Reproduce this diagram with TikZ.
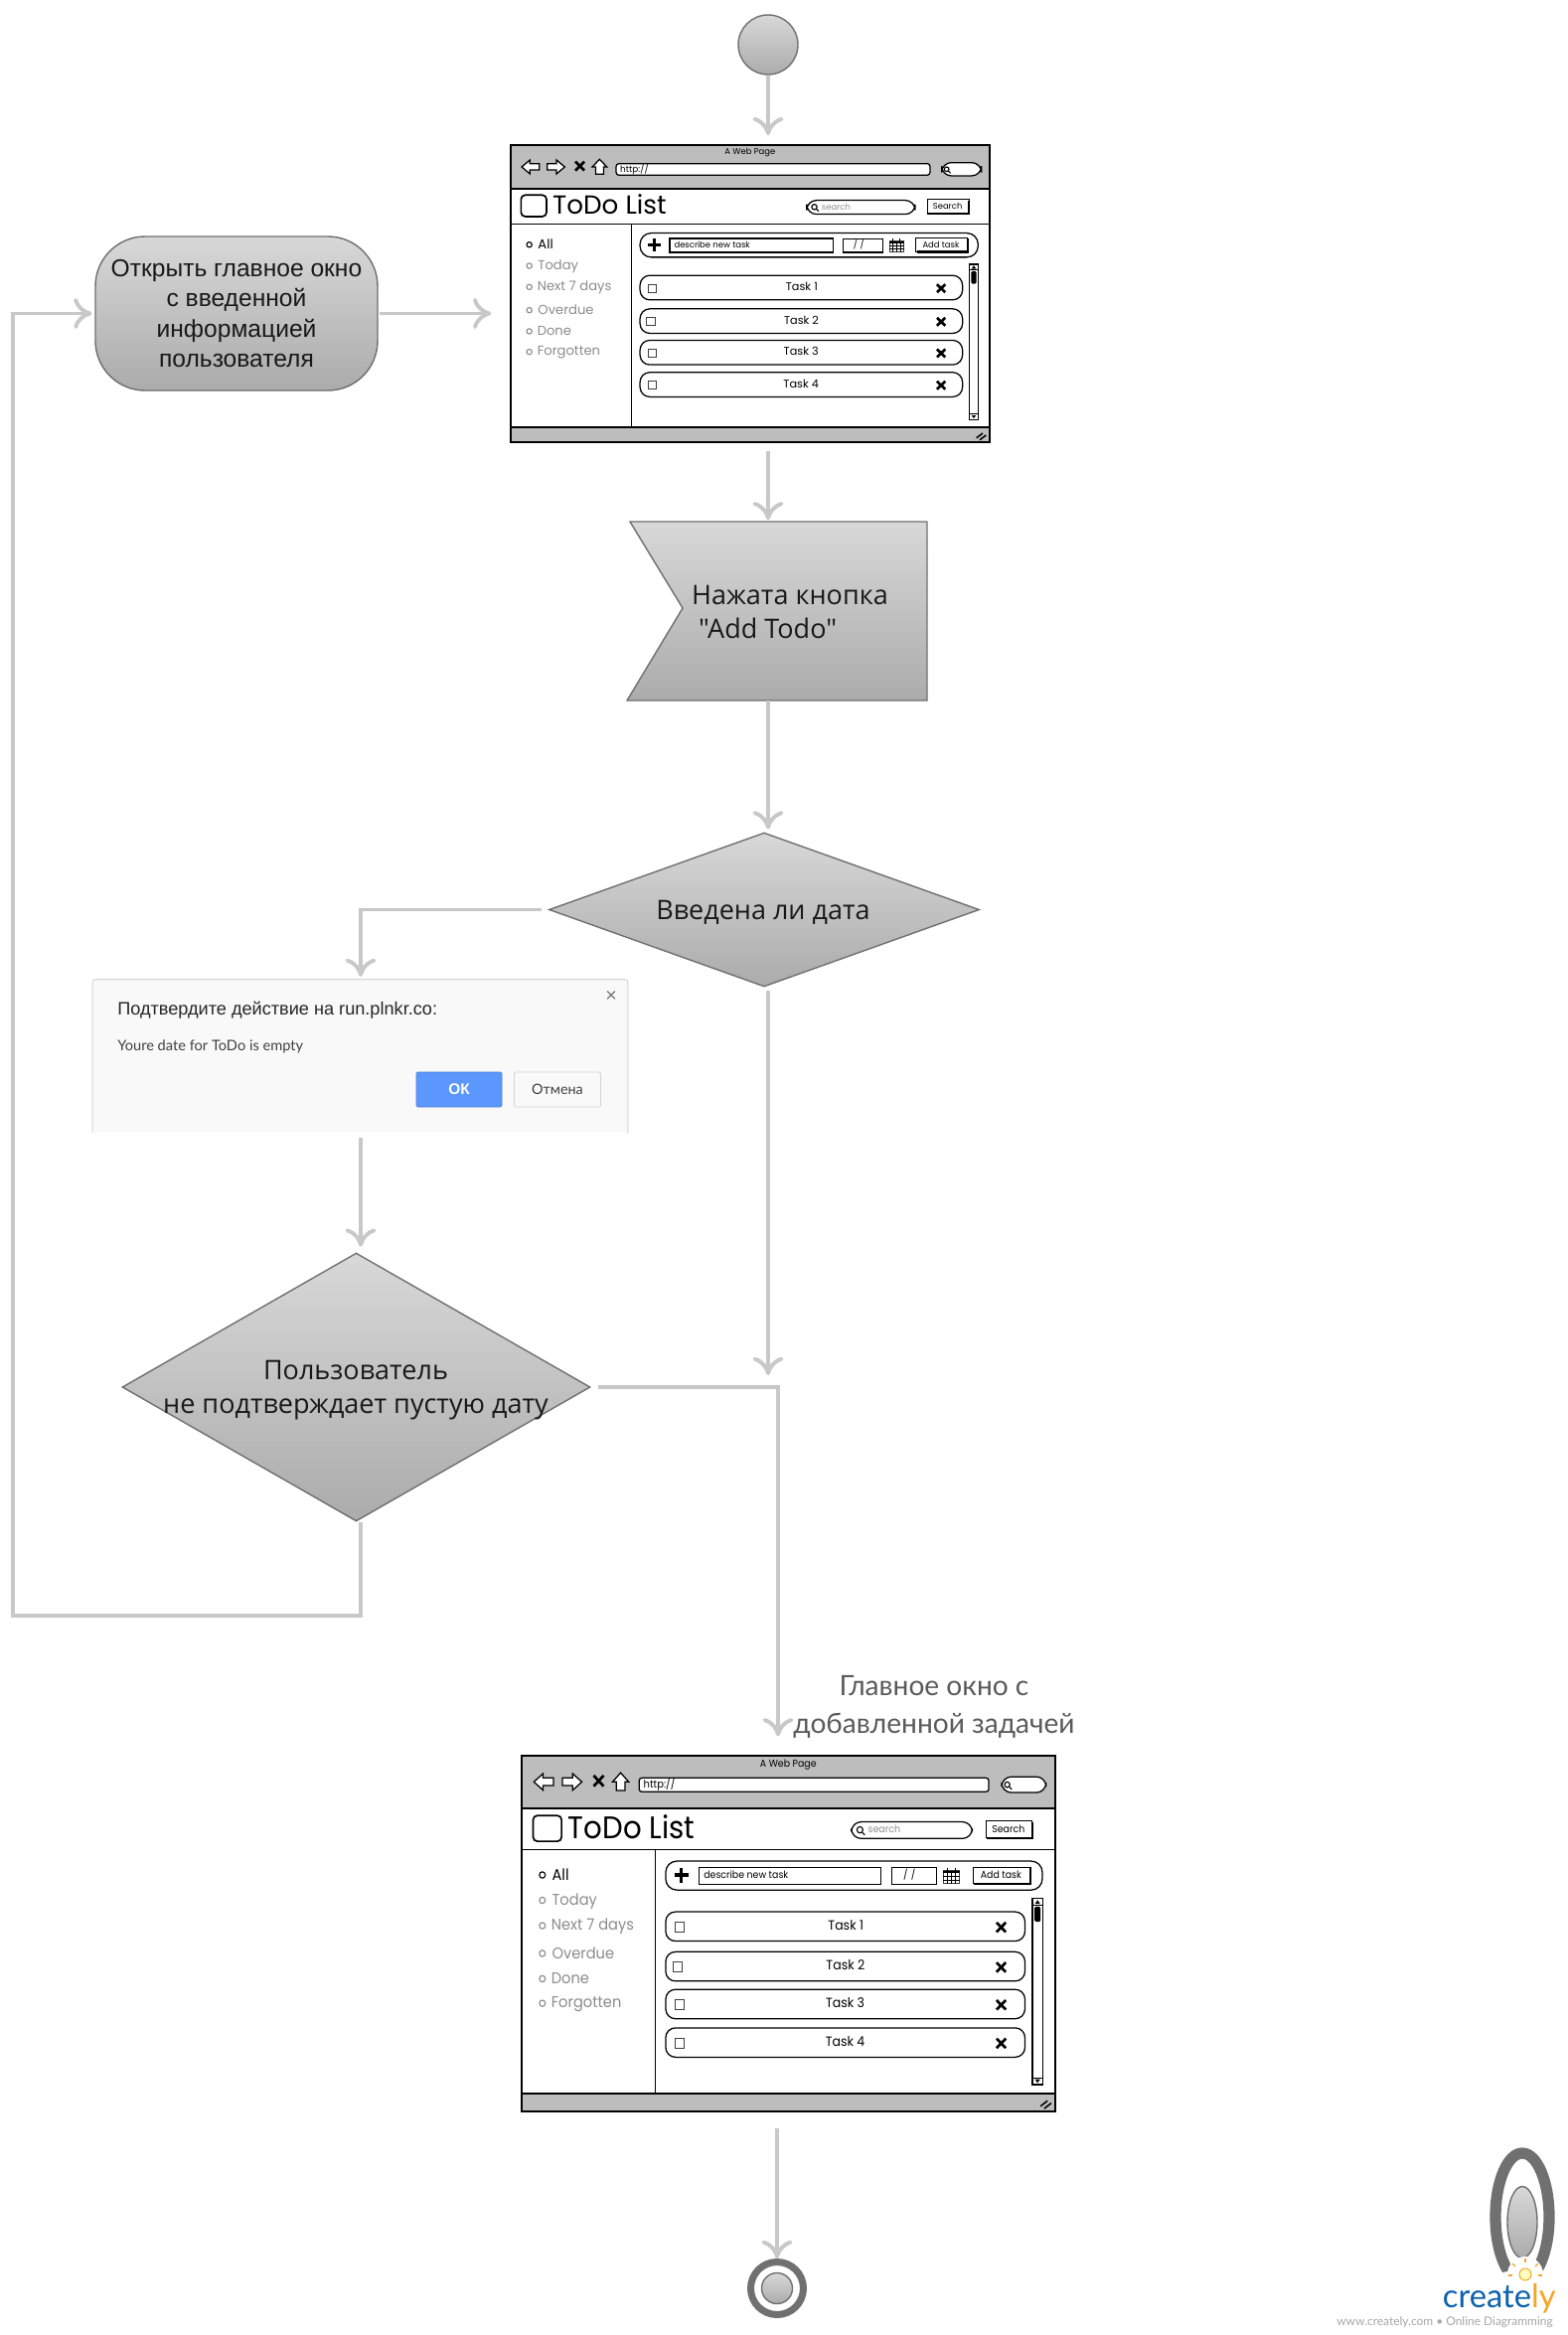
\documentclass[tikz,border=0pt]{standalone}
\usepackage{fontspec}
\usepackage{tikz}
\usetikzlibrary{shapes.geometric}
\usetikzlibrary{arrows.meta}
\newfontfamily\boxfont{Liberation Sans}
\newfontfamily\askfont{Open Sans}
\newfontfamily\sketchfont{Poppins}
\newfontfamily\notefont{Lato}
\newfontfamily\dialogfont{Liberation Sans}
\definecolor{flowgray}{HTML}{C8C8C8}
\definecolor{edgegray}{HTML}{707070}
\definecolor{shadetop}{HTML}{D8D8D8}
\definecolor{shadebot}{HTML}{ABABAB}
\definecolor{barsgray}{HTML}{BDBDBD}
\definecolor{mutedgray}{HTML}{8C8C8C}
\definecolor{notegray}{HTML}{5A5A5A}
\definecolor{dialogbg}{HTML}{F9F9F9}
\definecolor{dialogedge}{HTML}{D4D4D4}
\definecolor{okblue}{HTML}{5B97FD}
\definecolor{logoblue}{HTML}{0B62B0}
\definecolor{logoorange}{HTML}{F5A623}
\newcommand{\px}{0.025cm}
\newcommand{\sizedfont}[1]{\fontsize{#1}{#1}\selectfont}
\tikzset{
    flow/.style={draw=flowgray, line width=2.8pt, -{Computer Modern Rightarrow[length=13pt, width=22pt]}},
    grad/.style={draw=edgegray, line width=1pt, top color=shadetop, bottom color=shadebot},
    sketch/.style={draw=black, line width=0.9pt, fill=white},
    pill/.style={sketch, rounded corners=7pt},
    thinbox/.style={draw=black!75, line width=0.5pt, fill=white},
    crossline/.style={line width=1.9pt, draw=black},
    caption/.style={transform shape, font=\sketchfont\sizedfont{18}, inner sep=0pt},
    menuitem/.style={transform shape, font=\sketchfont\sizedfont{28}, inner sep=0pt, anchor=west, text=mutedgray},
    bullet/.style={draw=#1, line width=0.8pt}
}
% one row of the task list
\newcommand{\taskrow}[6]{
    \draw[pill] (432,#2) rectangle (1405,#2+74);
    \draw[thinbox] (#3-13,#2+26) rectangle (#3+13,#2+51);
    \node[caption, font=\sketchfont\sizedfont{24}] (#1task#6) at (#4,#2+34) {#5};
    \draw[crossline] (1328,#2+27) -- (1353,#2+51);
    \draw[crossline] (1353,#2+27) -- (1328,#2+51);
}
% hand drawn browser window
\newcommand{\webpage}[5]{
    \node[anchor=north west, inner sep=0pt, minimum width=#4*\px, minimum height=#5*\px] (#1) at (#2,#3) {};
    \begin{scope}[shift={(#2,#3)}, xscale=#4/1445, yscale=#5/898, shift={(-42,-47)}]
        % Frame
        \draw[line width=1.3pt, fill=white] (42,47) rectangle (1487,945);
        \draw[line width=1.3pt, fill=barsgray] (42,47) rectangle (1487,180);
        \draw[line width=1.3pt, fill=barsgray] (42,900) rectangle (1487,945);
        \draw[line width=0.7pt] (42,285) -- (1487,285);
        \draw[line width=0.7pt] (405,285) -- (405,900);
        \node[caption] (#1title) at (764,69) {A Web Page};
        % Toolbar
        \draw[sketch] (75,113) -- (100,92) -- (100,103) -- (128,103) -- (128,122) -- (100,122) -- (100,134) -- cycle;
        \draw[sketch] (205,113) -- (180,92) -- (180,103) -- (152,103) -- (152,122) -- (180,122) -- (180,134) -- cycle;
        \draw[crossline] (237,97) -- (264,124);
        \draw[crossline] (264,97) -- (237,124);
        \draw[sketch] (288,113) -- (310,90) -- (332,113) -- (322,113) -- (322,135) -- (298,135) -- (298,113) -- cycle;
        \draw[sketch, rounded corners=2pt] (360,103) rectangle (1307,138);
        \node[caption, anchor=west, font=\sketchfont\sizedfont{19}] (#1url) at (372,119) {http://};
        \draw[pill] (1342,100) rectangle (1462,140);
        \draw[line width=0.8pt] (1357,120) circle [radius=7];
        \draw[line width=0.8pt] (1362,125) -- (1369,132);
        % Heading
        \draw[line width=1.2pt, rounded corners=3pt] (73,198) rectangle (150,263);
        \node[caption, anchor=west, font=\sketchfont\sizedfont{56}] (#1heading) at (168,226) {ToDo List};
        \draw[pill] (935,214) rectangle (1262,256);
        \draw[line width=0.8pt] (958,234) circle [radius=8];
        \draw[line width=0.8pt] (964,240) -- (971,247);
        \node[caption, anchor=west, text=mutedgray] (#1find) at (980,233) {search};
        \draw[sketch, line width=0.7pt] (1300,212) rectangle (1425,255);
        \draw[line width=1.6pt] (1425,214) -- (1425,255) -- (1302,255);
        \node[caption] (#1findbtn) at (1360,232) {Search};
        % Side menu
        \draw[bullet=black] (98,348) circle [radius=8];
        \draw[bullet=mutedgray] (98,412) circle [radius=8];
        \draw[bullet=mutedgray] (98,476) circle [radius=8];
        \draw[bullet=mutedgray] (98,546) circle [radius=8];
        \draw[bullet=mutedgray] (98,610) circle [radius=8];
        \draw[bullet=mutedgray] (98,672) circle [radius=8];
        \node[menuitem, text=black] (#1all) at (124,346) {All};
        \node[menuitem] (#1today) at (124,414) {Today};
        \node[menuitem] (#1next) at (122,478) {Next 7 days};
        \node[menuitem] (#1overdue) at (124,546) {Overdue};
        \node[menuitem] (#1done) at (122,610) {Done};
        \node[menuitem] (#1forgot) at (122,674) {Forgotten};
        % New task bar
        \draw[pill, rounded corners=8pt] (432,313) rectangle (1452,386);
        \draw[crossline, line width=2.2pt] (456,348) -- (495,348);
        \draw[crossline, line width=2.2pt] (475,330) -- (475,367);
        \draw[sketch] (522,329) rectangle (1015,371);
        \node[caption, anchor=west] (#1describe) at (535,348) {describe new task};
        \draw[sketch] (1045,330) rectangle (1165,371);
        \node[caption] (#1date) at (1092,348) {/\,\,/};
        \draw[thinbox] (1184,336) rectangle (1228,370);
        \draw[line width=1.5pt] (1184,340) -- (1228,340);
        \draw[line width=0.7pt] (1196,330) -- (1196,338);
        \draw[line width=0.7pt] (1216,330) -- (1216,338);
        \draw[line width=0.4pt] (1195,340) -- (1195,370);
        \draw[line width=0.4pt] (1206,340) -- (1206,370);
        \draw[line width=0.4pt] (1217,340) -- (1217,370);
        \draw[line width=0.4pt] (1184,350) -- (1228,350);
        \draw[line width=0.4pt] (1184,360) -- (1228,360);
        \draw[sketch, line width=0.7pt] (1265,328) rectangle (1420,370);
        \draw[line width=1.6pt] (1420,330) -- (1420,370) -- (1267,370);
        \node[caption] (#1addbtn) at (1340,348) {Add task};
        % Tasks
        \taskrow{#1}{441}{469}{920}{Task 1}{1}
        \taskrow{#1}{542}{464}{919}{Task 2}{2}
        \taskrow{#1}{637}{469}{918}{Task 3}{3}
        \taskrow{#1}{734}{469}{918}{Task 4}{4}
        % Scroll bar
        \draw[sketch] (1425,407) rectangle (1453,877);
        \draw[line width=0.7pt] (1425,425) -- (1453,425);
        \draw[line width=0.7pt] (1425,860) -- (1453,860);
        \fill (1439,411) -- (1446,421) -- (1432,421) -- cycle;
        \fill (1439,873) -- (1446,864) -- (1432,864) -- cycle;
        \fill[rounded corners=1pt] (1431,428) rectangle (1447,466);
        % Resize grip
        \draw[line width=1.1pt] (1447,932) -- (1466,918);
        \draw[line width=1.1pt] (1457,938) -- (1476,924);
    \end{scope}
}
\begin{document}
\begin{tikzpicture}[x=\px, y=-\px]
    \useasboundingbox (0,0) rectangle (1578,2350);

    % Points the lines turn at
    \coordinate (dlgx) at (363,0);
    \coordinate (loopA) at (13,1626);
    \coordinate (merge) at (773,1384);
    \coordinate (joinx) at (783,1396);

    % Nodes
    \node[circle, grad, minimum size=60*\px, inner sep=0pt] (start) at (773,45) {};
    \webpage{page1}{514}{146}{482}{299}
    \node[rounded corners=50*\px, grad, minimum width=284*\px, minimum height=155*\px, inner sep=0pt, align=center, text=black!90, font=\boxfont\fontsize{17.5}{21.6}\selectfont] (open) at (238,315.5) {Открыть главное окно\\с введенной\\информацией\\пользователя};
    \draw[grad] (634,525) -- (933,525) -- (933,705) -- (631,705) -- (687,612) -- cycle;
    \node[inner sep=0pt, minimum width=300*\px, minimum height=180*\px] (flag) at (783,615) {};
    \node[align=left, inner sep=0pt, text=black!90, font=\askfont\fontsize{19.2}{24.5}\selectfont] (flagtext) at (795,616) {Нажата кнопка\\\hspace{5pt}"Add Todo"};
    \node[diamond, aspect=2.8, grad, minimum width=433*\px, minimum height=155*\px, inner sep=0pt] (dateQ) at (769,915.5) {};
    \node[inner sep=0pt, text=black!90, font=\askfont\fontsize{19.2}{24}\selectfont] (datetext) at (768,918) {Введена ли дата};
    \node[inner sep=0pt, minimum width=538*\px, minimum height=154*\px, fill=dialogbg] (dialog) at (362.5,1063) {};
    \draw[draw=dialogedge, line width=0.7pt, rounded corners=2pt] (dialog.south west) -- (dialog.north west) -- (dialog.north east) -- (dialog.south east);
    \node[anchor=west, inner sep=0pt, font=\dialogfont\fontsize{12.9}{16}\selectfont, text=black!85] (dlgtitle) at (118,1017) {Подтвердите действие на run.plnkr.co:};
    \node[anchor=west, inner sep=0pt, font=\notefont\fontsize{10.4}{13}\selectfont, text=black!75] (dlgtext) at (118,1053) {Youre date for ToDo is empty};
    \node[inner sep=0pt, text=black!55, font=\dialogfont\fontsize{14}{16}\selectfont] (dlgclose) at (615,1003) {×};
    \node[minimum width=86*\px, minimum height=35*\px, inner sep=0pt, fill=okblue, draw=okblue!85!black, line width=0.6pt, rounded corners=1pt, text=white, font=\dialogfont\bfseries\fontsize{11}{13}\selectfont] (okbtn) at (462,1096.5) {ОК};
    \node[minimum width=87*\px, minimum height=35*\px, inner sep=0pt, fill=dialogbg, draw=dialogedge, line width=0.6pt, rounded corners=1pt, text=black!75, font=\notefont\fontsize{10.2}{13}\selectfont] (nobtn) at (561,1096.5) {Отмена};
    \node[diamond, aspect=1.75, grad, minimum width=471*\px, minimum height=270*\px, inner sep=0pt] (confirmQ) at (358.5,1396) {};
    \node[align=center, inner sep=0pt, text=black!90, font=\askfont\fontsize{19.2}{24.5}\selectfont] (confirmtext) at (358,1399) {Пользователь\\не подтверждает пустую дату};
    \node[align=center, inner sep=0pt, text=notegray, font=\notefont\fontsize{20}{27}\selectfont] (note) at (940,1718) {Главное окно с\\добавленной задачей};
    \webpage{page2}{525}{1767}{537}{358}
    \node[circle, draw=edgegray, line width=5pt, fill=white, minimum size=53*\px, inner sep=0pt] (end) at (782,2303) {};
    \node[circle, grad, minimum size=31*\px, inner sep=0pt] (endcore) at (782,2303) {};

    % Lines
    \draw[flow, shorten >=7pt] (start.south) -- (start |- page1.north);
    \draw[flow, shorten >=14pt, shorten <=1pt] (open.east) -- (open.east -| page1.west);
    \draw[flow, shorten >=2pt] (dlgx |- confirmQ.south) -- (dlgx |- loopA) -- (loopA) -- (loopA |- open.west) -- (open.west);
    \draw[flow, shorten <=6pt, shorten >=1pt] (start |- page1.south) -- (start |- flag.north);
    \draw[flow, shorten >=2pt] (start |- flag.south) -- (start |- dateQ.north);
    \draw[flow, shorten <=5pt, shorten >=2pt] (dateQ.west) -- (dlgx |- dateQ.west) -- (dlgx |- dialog.north);
    \draw[flow, shorten <=2pt] (start |- dateQ.south) -- (merge);
    \draw[flow, shorten <=3pt, shorten >=4pt] (dlgx |- dialog.south) -- (dlgx |- confirmQ.north);
    \draw[flow, shorten <=5pt, shorten >=14pt] (confirmQ.east) -- (joinx) -- (joinx |- page2.north);
    \draw[flow, shorten <=12pt] (end |- page2.south) -- (end.north);

    % Logo
    \draw[draw=edgegray, line width=8pt] (1532,2231) ellipse [x radius=27, y radius=64];
    \draw[grad] (1532,2236.5) ellipse [x radius=15, y radius=36];
    \fill[white] (1535,2289) circle [radius=18];
    \fill[white] (1517,2296) circle [radius=10];
    \draw[draw=logoorange, fill=yellow!25, line width=0.7pt] (1535,2289) circle [radius=6];
    \draw[draw=logoorange, line width=0.9pt] (1535,2277) -- (1535,2273);
    \draw[draw=logoorange, line width=0.9pt] (1525,2281) -- (1522,2278);
    \draw[draw=logoorange, line width=0.9pt] (1545,2281) -- (1548,2278);
    \draw[draw=logoorange, line width=0.9pt] (1522,2290) -- (1518,2290);
    \draw[draw=logoorange, line width=0.9pt] (1548,2290) -- (1552,2290);
    \node[anchor=base east, inner sep=0pt, text=logoblue, font=\notefont\fontsize{23.3}{26}\selectfont] (logotext) at (1566,2322) {create\textcolor{logoorange}{ly}};
    \node[anchor=base east, inner sep=0pt, text=black!35, font=\notefont\fontsize{8.5}{10}\selectfont] (logourl) at (1563,2340) {www.creately.com • Online Diagramming};
\end{tikzpicture}
\end{document}
